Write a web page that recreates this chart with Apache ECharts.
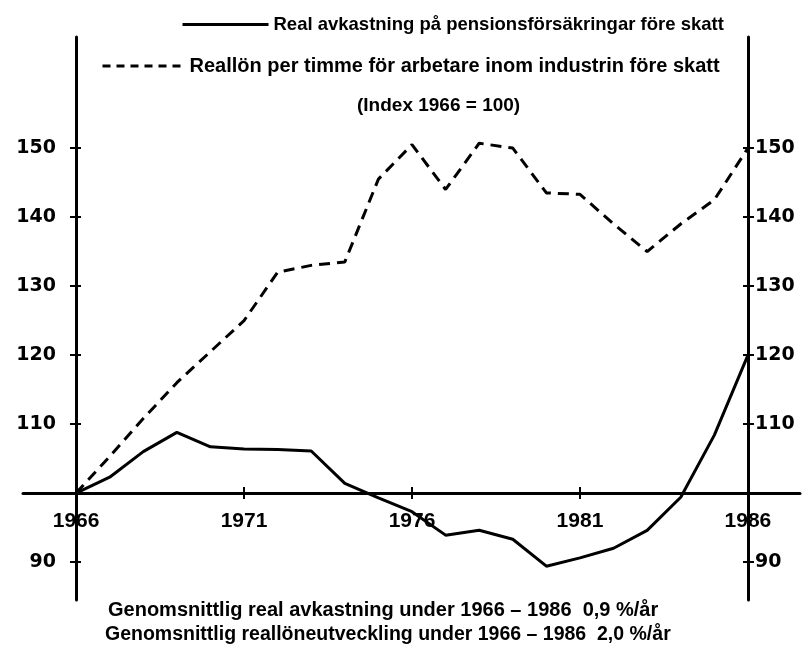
<!DOCTYPE html>
<html>
<head>
<meta charset="utf-8">
<script src="https://cdn.jsdelivr.net/npm/echarts@6/dist/echarts.min.js"></script>
<style>
  html, body { margin: 0; padding: 0; background: #fff; }
  #chart { width: 812px; height: 645px; }
</style>
</head>
<body>
<div id="chart"></div>
<script>
// år
const years = [1966, 1967, 1968, 1969, 1970, 1971, 1972, 1973, 1974, 1975, 1976,
               1977, 1978, 1979, 1980, 1981, 1982, 1983, 1984, 1985, 1986];
// Real avkastning på pensionsförsäkringar (index 1966 = 100)
const pensionReturn = [100, 102.3, 106, 108.8, 106.7, 106.4, 106.3, 106.1, 101.4, 99.3, 97.3,
                       93.9, 94.6, 93.3, 89.4, 90.6, 92.0, 94.6, 99.4, 108.4, 120];
// Reallön per timme (index 1966 = 100)
const realWage = [100, 105.3, 110.8, 116, 120.5, 125, 132, 133, 133.5, 145.5, 150.5,
                  144, 150.7, 150, 143.5, 143.3, 139, 135, 139, 142.5, 150];
const xTicks = [1966, 1971, 1976, 1981, 1986];
const yTicks = [90, 110, 120, 130, 140, 150];

const nameReturn = 'Real avkastning på pensionsförsäkringar före skatt';
const nameWage = 'Reallön per timme för arbetare inom industrin före skatt';
const noteReturn = 'Genomsnittlig real avkastning under 1966 – 1986  0,9 %/år';
const noteWage = 'Genomsnittlig reallöneutveckling under 1966 – 1986  2,0 %/år';

const txtFont = '"Liberation Sans", sans-serif';
const numFont = '"DejaVu Sans", sans-serif';

const chart = echarts.init(document.getElementById('chart'));

const yMin = 84.5, yMax = 166.1;
// två axlar per sida så att strecken korsar axeln
function yAx(pos, offset, inside, labels){
    return {
        type: 'value', position: pos, offset: offset, min: yMin, max: yMax,
        splitLine: {show: false},
        axisLine: {show: !inside, onZero: false, lineStyle: {color: '#000', width: 3}},
        axisTick: {show: true, inside: inside, length: inside ? 5 : 6, customValues: yTicks,
                   lineStyle: {color: '#000', width: 2}},
        axisLabel: {show: labels, customValues: yTicks, margin: pos == 'left' ? 20 : 7,
                    color: '#000', fontFamily: numFont, fontWeight: 'bold', fontSize: 19}
    };
}
function xAx(inside){
    return {
        type: 'value', position: 'bottom', offset: -107, min: 1964.42, max: 1987.55,
        splitLine: {show: false},
        axisLine: {show: !inside, onZero: false, lineStyle: {color: '#000', width: 3}},
        axisTick: {show: true, inside: inside, length: 6, customValues: xTicks,
                   lineStyle: {color: '#000', width: 2}},
        axisLabel: {show: !inside, customValues: xTicks, margin: 18, formatter: v => String(v),
                    color: '#000', fontFamily: '"Liberation Sans", sans-serif', fontWeight: 'bold', fontSize: 21}
    };
}

const option = {
    animation: false,
    backgroundColor: '#fff',
    title: [
        {text: '(Index 1966 = 100)', left: 352, top: 91,
         textStyle: {fontFamily: txtFont, fontWeight: 'bold', fontSize: 19, color: '#000'}},
        {text: noteReturn, left: 103, top: 595,
         textStyle: {fontFamily: txtFont, fontWeight: 'bold', fontSize: 20, color: '#000'}},
        {text: noteWage, left: 100, top: 620,
         textStyle: {fontFamily: txtFont, fontWeight: 'bold', fontSize: 19.5, color: '#000'}}
    ],
    legend: [
        {data: [nameReturn], left: 176, top: 10, itemWidth: 86, itemHeight: 14,
         itemStyle: {opacity: 0}, lineStyle: {width: 3},
         textStyle: {fontFamily: txtFont, fontWeight: 'bold', fontSize: 18.5, color: '#000'}},
        {data: [nameWage], left: 96, top: 51, itemWidth: 82, itemHeight: 14,
         itemStyle: {opacity: 0}, lineStyle: {width: 3, type: [8, 6]},
         textStyle: {fontFamily: txtFont, fontWeight: 'bold', fontSize: 20, color: '#000'}}
    ],
    grid: {left: 23, right: 12, top: 37, bottom: 45},
    xAxis: [xAx(false), xAx(true)],
    yAxis: [yAx('left', -53, false, true), yAx('left', -53, true, false),
            yAx('right', -52, false, true), yAx('right', -52, true, false)],
    series: [
        {
            name: nameReturn, type: 'line', symbol: 'none',
            data: years.map((y, i) => [y, pensionReturn[i]]),
            lineStyle: {color: '#000', width: 3}, itemStyle: {color: '#000'}
        },
        {
            name: nameWage, type: 'line', symbol: 'none',
            data: years.map((y, i) => [y, realWage[i]]),
            lineStyle: {color: '#000', width: 3, type: [11, 7]}, itemStyle: {color: '#000'}
        }
    ]
};
chart.setOption(option);
</script>
</body>
</html>
